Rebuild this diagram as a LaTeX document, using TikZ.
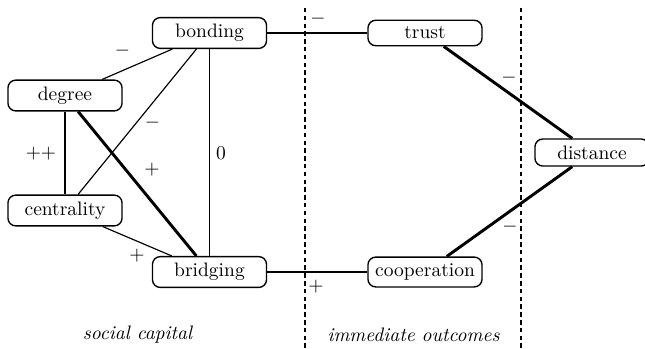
\documentclass[tikz,border=0pt]{standalone}
\usetikzlibrary{positioning}
\begin{document}
\begin{tikzpicture}[x=0.5128pt,y=-0.5128pt,
  box/.style={draw,rounded corners=4pt,line width=0.7pt,minimum width=58.5pt,minimum height=13pt,inner sep=3.4pt},
  thinedge/.style={line width=0.6pt},
  thickedge/.style={line width=1.5pt},
  divider/.style={line width=0.6pt,dash pattern=on 2.3pt off 1.7pt},
  lbl/.style={inner sep=0pt},
  region/.style={font=\itshape,inner sep=0pt}]
\useasboundingbox (0,0) rectangle (645,348);
% dividers
\coordinate (d1t) at (305,8); \coordinate (d1b) at (305,348);
\coordinate (d2t) at (521,8); \coordinate (d2b) at (521,348);
\draw[divider] (d1t) -- (d1b);
\draw[divider] (d2t) -- (d2b);
% nodes
\node[box] (bonding) at (209.5,33) {bonding};
\node[box] (degree) at (65,95.5) {degree};
\node[box] (centrality) at (65,210.5) {centrality};
\node[box] (bridging) at (209.5,272) {bridging};
\node[box] (trust) at (425,33) {trust};
\node[box] (cooperation) at (425,272) {cooperation};
\node[box] (distance) at (592,152.5) {distance};
% edges
\draw[thinedge] (bonding) -- (trust);
\draw[thinedge] (bonding) -- (degree);
\draw[thinedge] (bonding) -- (centrality);
\draw[thinedge] (bonding) -- (bridging);
\draw[thinedge] (centrality) -- (bridging);
\draw[thickedge] (degree) -- (centrality);
\draw[thickedge] (degree) -- (bridging);
\draw[thickedge] (bridging) -- (cooperation);
\draw[thickedge] (trust) -- (distance);
\draw[thickedge] (distance) -- (cooperation);
% edge labels
\node[lbl] (l1) at (318,19) {$-$};
\node[lbl] (l2) at (509,78) {$-$};
\node[lbl] (l3) at (510,227) {$-$};
\node[lbl] (l4) at (316,287) {$+$};
\node[lbl] (l5) at (122.5,51) {$-$};
\node[lbl] (l6) at (152.5,123) {$-$};
\node[lbl] (l7) at (221,153) {$0$};
\node[lbl] (l8) at (41,154) {$++$};
\node[lbl] (l9) at (152,170) {$+$};
\node[lbl] (l10) at (137,256) {$+$};
% region labels
\node[region] (sc) at (137.5,335) {social capital};
\node[region] (io) at (413.5,335) {immediate outcomes};
\end{tikzpicture}
\end{document}
